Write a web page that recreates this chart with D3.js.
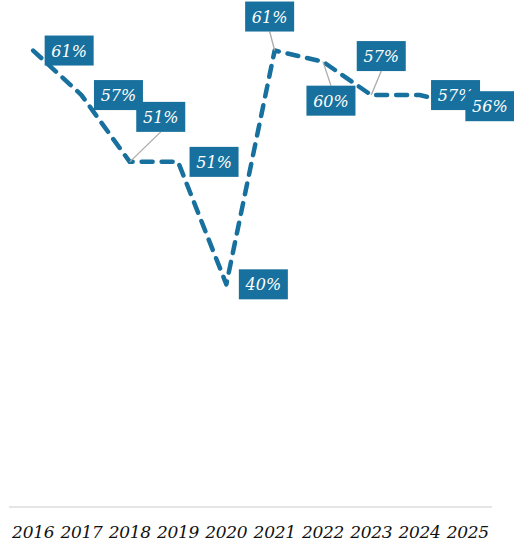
<!DOCTYPE html>
<html>
<head>
<meta charset="utf-8">
<script src="https://cdn.jsdelivr.net/npm/d3@7/dist/d3.min.js"></script>
<style>
    body { margin: 0; background: #fff; }
    svg { display: block; }
</style>
</head>
<body>
<svg id="chart"></svg>
<script>
const years = ['2016', '2017', '2018', '2019', '2020', '2021', '2022', '2023', '2024', '2025'];
const values = [61, 57, 51, 51, 40, 61, 60, 57, 57, 56];

// label box center offsets from each point (layout only)
const labelDx = [36, 37, 31, 36, 37, -5, 8, 10, 36, 22];
const labelDy = [0, 0, -45, 0, 0, -34, 39, -39, 0, 0];

const WIDTH = 514;
const HEIGHT = 547;
const AXIS_Y = 507;
const BOX_W = 49;
const BOX_H = 30;
const BLUE = '#17709d';
const FONT = '"DejaVu Serif", Georgia, serif';

const root = d3.select('#chart')
    .attr('width', WIDTH)
    .attr('height', HEIGHT);

const x = d3.scaleBand()
    .domain(years)
    .range([9, 492]);

const y = d3.scaleLinear()
    .domain([20, 65])
    .range([AXIS_Y, 6]);

const cx = d => x(d) + x.bandwidth() / 2;

// baseline
root.append('line')
    .attr('x1', 9)
    .attr('x2', 492)
    .attr('y1', AXIS_Y)
    .attr('y2', AXIS_Y)
    .attr('stroke', '#dddddd')
    .attr('stroke-width', 1.5);

// year labels
root.append('g')
    .selectAll('text')
    .data(years)
    .join('text')
    .text(d => d)
    .attr('x', d => cx(d))
    .attr('y', 538)
    .attr('text-anchor', 'middle')
    .attr('font-family', FONT)
    .attr('font-style', 'italic')
    .attr('font-size', 17)
    .attr('letter-spacing', -0.3)
    .attr('fill', '#111');

// dashed line
const line = d3.line()
    .x((d, i) => cx(years[i]))
    .y(d => y(d));

root.append('path')
    .datum(values)
    .attr('d', line)
    .attr('fill', 'none')
    .attr('stroke', BLUE)
    .attr('stroke-width', 4.5)
    .attr('stroke-linecap', 'round')
    .attr('stroke-linejoin', 'round')
    .attr('stroke-dasharray', '11,9');

// leader lines for labels pulled away from the line
years.forEach((yr, i) => {
    if (labelDy[i] === 0) return;
    const px = cx(yr), py = y(values[i]);
    const bx = px + labelDx[i];
    const by = py + labelDy[i] + (labelDy[i] < 0 ? BOX_H / 2 : -BOX_H / 2);
    root.append('line')
        .attr('x1', px)
        .attr('y1', py)
        .attr('x2', bx)
        .attr('y2', by)
        .attr('stroke', '#aaaaaa')
        .attr('stroke-width', 1.3);
});

// value labels
years.forEach((yr, i) => {
    const bx = cx(yr) + labelDx[i];
    const by = y(values[i]) + labelDy[i];
    const g = root.append('g').attr('transform', `translate(${bx},${by})`);
    g.append('rect')
        .attr('x', -BOX_W / 2)
        .attr('y', -BOX_H / 2)
        .attr('width', BOX_W)
        .attr('height', BOX_H)
        .attr('fill', BLUE);
    g.append('text')
        .text(values[i] + '%')
        .attr('x', 0)
        .attr('y', 6)
        .attr('text-anchor', 'middle')
        .attr('font-family', FONT)
        .attr('font-style', 'italic')
        .attr('font-size', 16)
        .attr('fill', '#fff');
});
</script>
</body>
</html>
